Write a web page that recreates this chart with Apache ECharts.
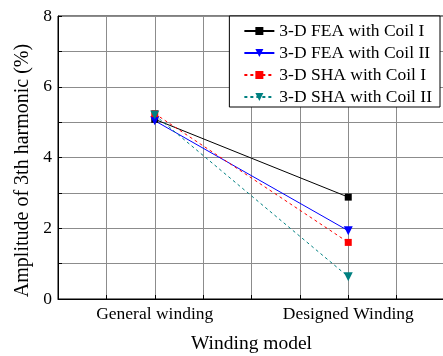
<!DOCTYPE html>
<html>
<head>
<meta charset="utf-8">
<script src="https://cdn.jsdelivr.net/npm/echarts@6/dist/echarts.min.js"></script>
<style>
    html, body { margin: 0; padding: 0; background: #fff; }
    #main { width: 443px; height: 356px; }
</style>
</head>
<body>
<div id="main"></div>
<script>
// categories sit at x = 2 and x = 6 on a 0..8 value axis
var categories = ['General winding', 'Designed Winding'];
var catPos = [2, 6];

var feaCoil1 = [5.08, 2.88];
var feaCoil2 = [5.04, 1.93];
var shaCoil1 = [5.24, 1.60];
var shaCoil2 = [5.20, 0.63];

var yTicks = [0, 2, 4, 6, 8];

function pairs(vals) {
    var out = [];
    for (var i = 0; i < vals.length; i++) {
        out.push([catPos[i], vals[i]]);
    }
    return out;
}

var chart = echarts.init(document.getElementById('main'));
var font = 'Liberation Serif';

var option = {
    animation: false,
    grid: {
        left: 58, right: -2, top: 16, bottom: 57,
        outerBoundsMode: 'none',
        containLabel: false,
        show: true, borderColor: '#000', borderWidth: 1
    },
    legend: {
        orient: 'vertical',
        right: 3, top: 16,
        backgroundColor: '#fff',
        borderColor: '#000',
        borderWidth: 1,
        borderRadius: 0,
        padding: [6, 8, 1, 14],
        itemWidth: 30,
        itemHeight: 10,
        itemGap: 4,
        textStyle: { fontFamily: font, fontSize: 17.5, color: '#000' },
        data: ['3-D FEA with Coil I', '3-D FEA with Coil II', '3-D SHA with Coil I', '3-D SHA with Coil II']
    },
    xAxis: {
        type: 'value',
        min: 0, max: 8, interval: 1,
        name: 'Winding model',
        nameLocation: 'middle',
        nameGap: 35,
        nameTextStyle: { fontFamily: font, fontSize: 19.5, color: '#000' },
        axisLine: { lineStyle: { color: '#000' } },
        axisTick: { inside: true, length: 4, lineStyle: { color: '#000' } },
        axisLabel: {
            fontFamily: font, fontSize: 17.5, color: '#000', margin: 6,
            formatter: function (v) {
                var i = catPos.indexOf(v);
                return i >= 0 ? categories[i] : '';
            }
        },
        splitLine: { show: true, lineStyle: { color: '#8c8c8c' } }
    },
    yAxis: {
        type: 'value',
        min: 0, max: 8, interval: 1,
        name: 'Amplitude of 3th harmonic (%)',
        nameLocation: 'middle',
        nameGap: 23,
        nameTextStyle: {
            fontFamily: font, fontSize: 20, color: '#000',
            padding: [0, 26, 0, 0]
        },
        axisLine: { show: true, lineStyle: { color: '#000' } },
        axisTick: { show: true, inside: true, length: 4, lineStyle: { color: '#000' } },
        axisLabel: {
            fontFamily: font, fontSize: 17.5, color: '#000', margin: 6,
            formatter: function (v) {
                return yTicks.indexOf(v) >= 0 ? String(v) : '';
            }
        },
        splitLine: { show: true, lineStyle: { color: '#8c8c8c' } }
    },
    series: [
        {
            name: '3-D FEA with Coil I', type: 'line',
            symbol: 'rect', symbolSize: 7,
            itemStyle: { color: '#000' },
            lineStyle: { color: '#000', width: 1 },
            data: pairs(feaCoil1)
        },
        {
            name: '3-D FEA with Coil II', type: 'line',
            symbol: 'triangle', symbolRotate: 180, symbolSize: 9,
            itemStyle: { color: '#0000ff' },
            lineStyle: { color: '#0000ff', width: 1 },
            data: pairs(feaCoil2)
        },
        {
            name: '3-D SHA with Coil I', type: 'line',
            symbol: 'rect', symbolSize: 7,
            itemStyle: { color: '#ff0000' },
            lineStyle: { color: '#ff0000', width: 1, type: [3, 3] },
            data: pairs(shaCoil1)
        },
        {
            name: '3-D SHA with Coil II', type: 'line',
            symbol: 'triangle', symbolRotate: 180, symbolSize: 9,
            itemStyle: { color: '#008080' },
            lineStyle: { color: '#008080', width: 1, type: [3, 3] },
            data: pairs(shaCoil2)
        }
    ]
};
chart.setOption(option);
</script>
</body>
</html>
